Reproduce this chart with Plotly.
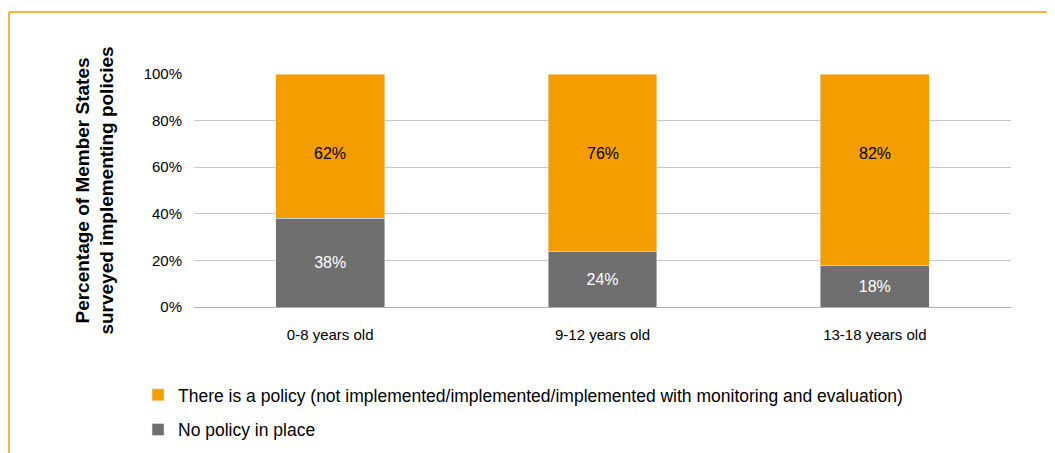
import plotly.graph_objects as go

age_groups = ['0-8 years old', '9-12 years old', '13-18 years old']
no_policy = [38, 24, 18]
has_policy = [62, 76, 82]

series_names = [
    'There is a policy (not implemented/implemented/implemented with monitoring and evaluation)',
    'No policy in place',
]

orange = '#f49d00'
grey = '#6f6f6f'
font_family = 'Liberation Sans, Arial, sans-serif'

fig = go.Figure()

fig.add_trace(go.Bar(
    x=age_groups,
    y=no_policy,
    name=series_names[1],
    marker_color=grey,
    text=[f'{v}%' for v in no_policy],
    textposition='inside',
    insidetextanchor='middle',
    textfont=dict(color='white', size=16, family=font_family),
    width=0.4,
    legendrank=2,
    legendgroup='none',
))

fig.add_trace(go.Bar(
    x=age_groups,
    y=has_policy,
    name=series_names[0],
    marker_color=orange,
    width=0.4,
    legendrank=1,
    legendgroup='policy',
))

# the orange labels sit at the same height in every bar
for cat, v in zip(age_groups, has_policy):
    fig.add_annotation(
        x=cat, y=66, text=f'{v}%', showarrow=False,
        font=dict(color='black', size=16, family=font_family),
    )

fig.update_layout(
    barmode='stack',
    width=1055,
    height=453,
    plot_bgcolor='white',
    paper_bgcolor='white',
    font=dict(family=font_family, size=15, color='black'),
    margin=dict(l=186, r=52, t=66, b=154),
    legend=dict(
        orientation='v',
        x=-0.0685,
        xanchor='left',
        y=-0.30,
        yanchor='top',
        font=dict(size=17.5, color='black'),
        traceorder='grouped',
        itemwidth=30,
        tracegroupgap=9,
    ),
    uniformtext=dict(minsize=10, mode='show'),
    shapes=[
        dict(type='line', xref='paper', yref='paper',
             x0=-0.2264, x1=1.07, y0=1.266, y1=1.266,
             line=dict(color=orange, width=1.5)),
        dict(type='line', xref='paper', yref='paper',
             x0=-0.2264, x1=-0.2264, y0=1.266, y1=-0.7,
             line=dict(color=orange, width=1.5)),
    ],
)

fig.update_xaxes(
    showgrid=False,
    showline=False,
    ticks='outside',
    ticklen=14,
    tickcolor='rgba(0,0,0,0)',
    tickfont=dict(size=15, color='black'),
)

fig.update_yaxes(
    range=[0, 100],
    dtick=20,
    ticksuffix='%',
    showgrid=True,
    gridcolor='#c8c8c8',
    gridwidth=1,
    zeroline=True,
    zerolinecolor='#b0b0b0',
    zerolinewidth=1,
    ticks='outside',
    ticklen=8,
    tickcolor='rgba(0,0,0,0)',
    tickfont=dict(size=15, color='black'),
    title=dict(
        text='<b>Percentage of Member States<br>surveyed implementing policies</b>',
        font=dict(size=19, color='black'),
        standoff=24,
    ),
)

fig.write_html('out.html')
